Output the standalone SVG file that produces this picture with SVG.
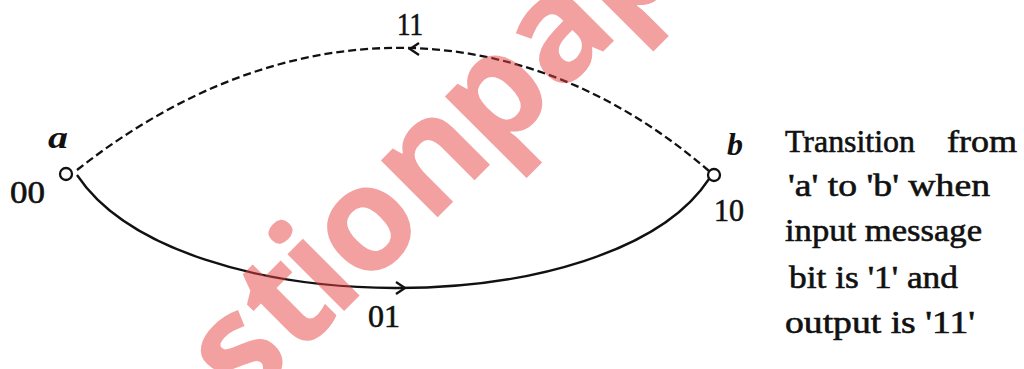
<svg xmlns="http://www.w3.org/2000/svg" width="1024" height="369" viewBox="0 0 1024 369">
<style>
.lbl{font-family:"Liberation Serif","Times New Roman",serif;font-size:31px;fill:#111;stroke:#111;stroke-width:0.6}
.nm{font-family:"Liberation Serif","Times New Roman",serif;font-size:32px;font-weight:bold;font-style:italic;fill:#111}
.desc{font-family:"Liberation Serif","Times New Roman",serif;font-size:32px;fill:#111;stroke:#111;stroke-width:0.6}
.edge{fill:none;stroke:#111;stroke-width:2.3}
.dash{stroke-dasharray:8 4}
.chev{fill:none;stroke:#111;stroke-width:2.3;stroke-linejoin:miter}
.node{fill:#fff;stroke:#111;stroke-width:2.3}
.wm{font-family:"Open Sans","DejaVu Sans",sans-serif;font-weight:bold;font-size:147px;fill:#e84141;fill-opacity:0.5}
</style>
<rect width="1024" height="369" fill="#fff"/>
<g id="connectors">
  <path class="edge dash" d="M77,170 C285,6 520,8 709,171"/>
  <path class="chev" d="M419,43 L410,49 L419,55"/>
  <text class="lbl" x="397" y="35" textLength="26" lengthAdjust="spacingAndGlyphs">11</text>
  <path class="edge" d="M77,175 C177,325 613,325 709,179"/>
  <path class="chev" d="M396,282 L405,288 L396,294"/>
  <text class="lbl" x="368" y="327" textLength="32" lengthAdjust="spacingAndGlyphs">01</text>
</g>
<g id="node-a">
  <circle class="node" cx="66" cy="174" r="6"/>
  <text class="nm" x="48" y="148" textLength="20" lengthAdjust="spacingAndGlyphs">a</text>
  <text class="lbl" x="10" y="203" textLength="35" lengthAdjust="spacingAndGlyphs">00</text>
</g>
<g id="node-b">
  <circle class="node" cx="714" cy="175" r="6"/>
  <text class="nm" x="727" y="155">b</text>
  <text class="lbl" x="714" y="221" textLength="30" lengthAdjust="spacingAndGlyphs">10</text>
</g>
<g id="note">
  <text class="desc" y="152"><tspan x="785" textLength="130" lengthAdjust="spacingAndGlyphs">Transition</tspan><tspan x="947" textLength="70" lengthAdjust="spacingAndGlyphs">from</tspan></text>
  <text class="desc" x="788" y="196" textLength="202" lengthAdjust="spacingAndGlyphs">'a' to 'b' when</text>
  <text class="desc" x="785" y="241" textLength="197" lengthAdjust="spacingAndGlyphs">input message</text>
  <text class="desc" x="789" y="288" textLength="169" lengthAdjust="spacingAndGlyphs">bit is '1' and</text>
  <text class="desc" x="785" y="333" textLength="190" lengthAdjust="spacingAndGlyphs">output is '11'</text>
</g>
<text class="wm" transform="rotate(-45)" x="-117.5 -44 12 53.4 144.5 235 327.6 414" y="463">stionpap</text>
</svg>
